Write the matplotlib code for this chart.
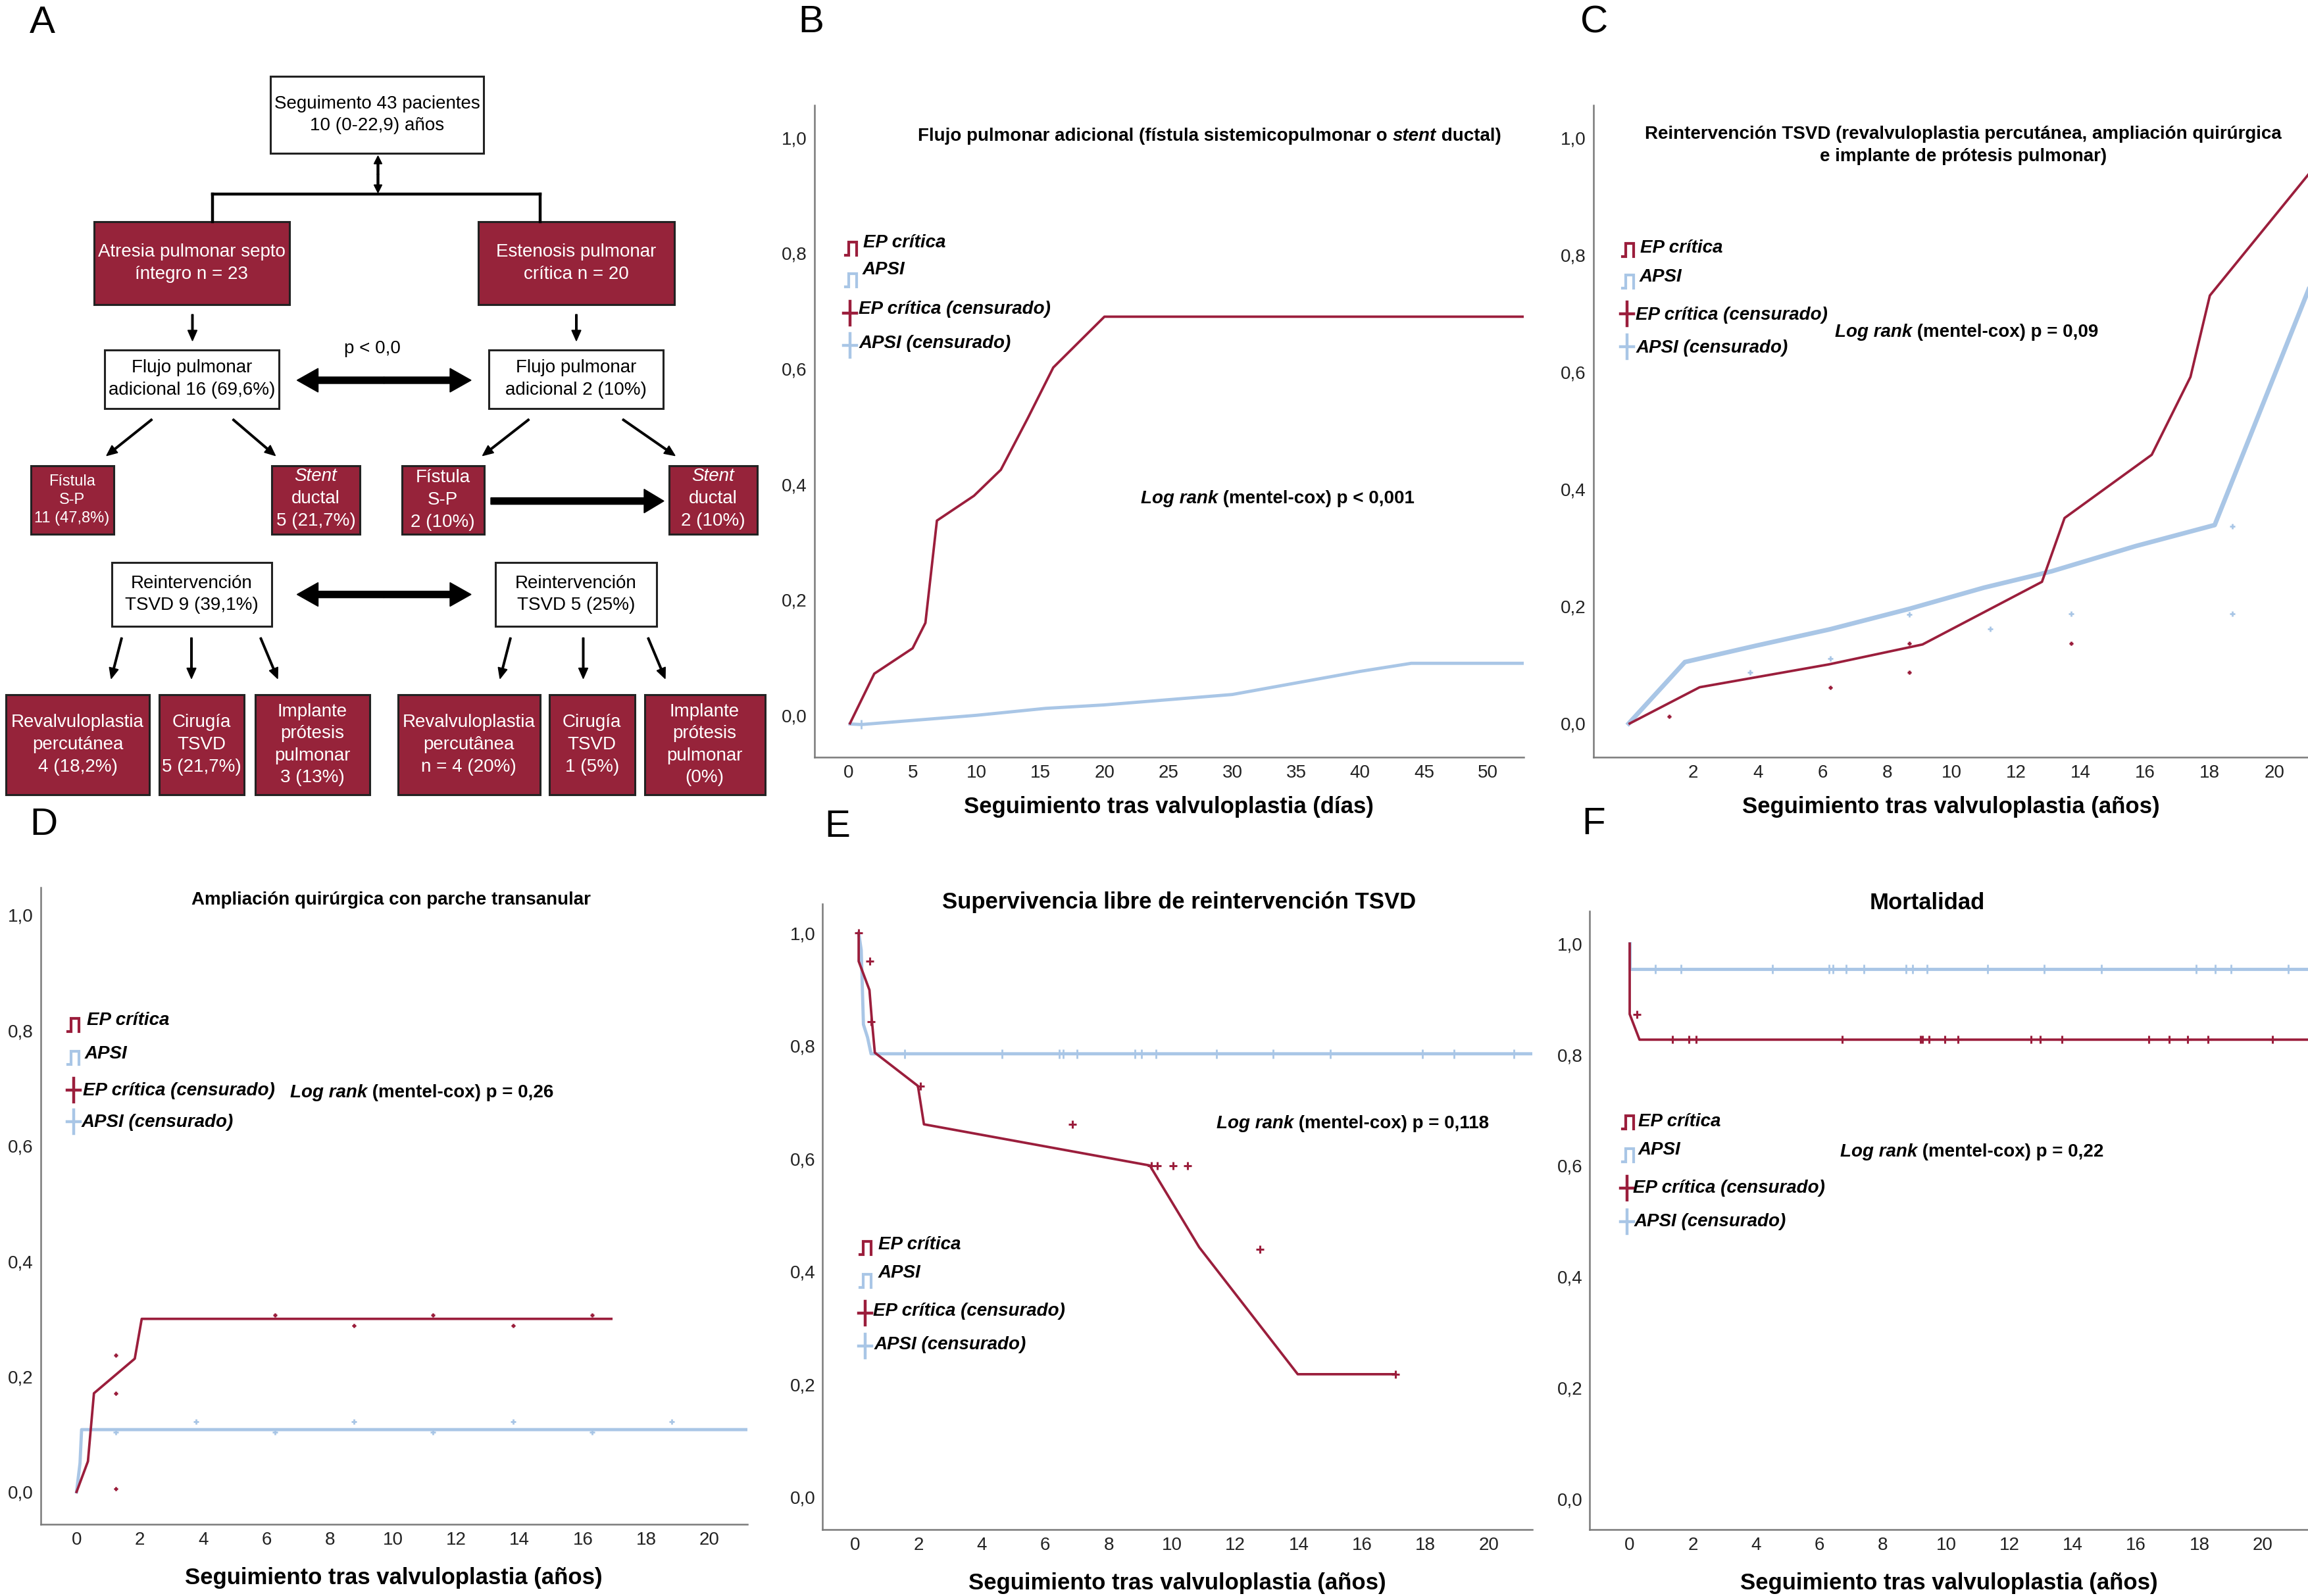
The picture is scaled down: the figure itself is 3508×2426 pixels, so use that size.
import matplotlib
matplotlib.use("Agg")
import matplotlib.pyplot as plt
from matplotlib.patches import Rectangle, FancyArrow

plt.rcParams['font.family'] = ['Liberation Sans', 'DejaVu Sans']

RED = '#9B1E3C'
BLUE = '#A9C6E6'
BOX_RED = '#96233A'

# ---------------- data ----------------
y_ticks = [0.0, 0.2, 0.4, 0.6, 0.8, 1.0]
y_tick_labels = ['0,0', '0,2', '0,4', '0,6', '0,8', '1,0']

# B: flujo pulmonar adicional (dias)
b_xticks = [0, 5, 10, 15, 20, 25, 30, 35, 40, 45, 50]
b_red_x = [0.1, 2.0, 5.0, 6.0, 6.9, 9.8, 11.9, 14.0, 16.0, 20.0, 52.8]
b_red_y = [-0.014, 0.072, 0.116, 0.16, 0.337, 0.38, 0.425, 0.514, 0.602, 0.69, 0.69]
b_blue_x = [0.1, 1.0, 10.0, 15.4, 20.0, 30.0, 35.0, 40.0, 44.0, 52.8]
b_blue_y = [-0.015, -0.016, 0.0, 0.012, 0.018, 0.036, 0.056, 0.076, 0.09, 0.09]
b_blue_cens_x = [1.0]
b_blue_cens_y = [-0.016]

# C: reintervencion TSVD (anos)
c_xticks = [2, 4, 6, 8, 10, 12, 14, 16, 18, 20]
c_red_x = [0.03, 2.2, 6.2, 9.1, 12.8, 13.5, 16.2, 17.4, 18.0, 21.1]
c_red_y = [0.0, 0.062, 0.101, 0.135, 0.242, 0.351, 0.459, 0.592, 0.731, 0.941]
c_blue_x = [0.0, 1.74, 3.95, 6.24, 8.7, 11.0, 13.1, 15.7, 18.15, 21.1]
c_blue_y = [0.0, 0.105, 0.133, 0.161, 0.196, 0.232, 0.26, 0.303, 0.339, 0.747]
c_red_cens_x = [1.25, 6.24, 8.7, 8.7, 13.7]
c_red_cens_y = [0.012, 0.062, 0.137, 0.087, 0.137]
c_blue_cens_x = [3.77, 6.24, 8.7, 11.2, 13.7, 18.7, 18.7]
c_blue_cens_y = [0.087, 0.111, 0.186, 0.162, 0.187, 0.337, 0.187]

# D: ampliacion quirurgica con parche transanular
yr_xticks = [0, 2, 4, 6, 8, 10, 12, 14, 16, 18, 20]
d_red_x = [0, 0.36, 0.55, 1.84, 2.06, 16.9]
d_red_y = [0, 0.053, 0.171, 0.231, 0.3, 0.3]
d_blue_x = [0, 0.11, 0.16, 21.2]
d_blue_y = [0, 0.05, 0.108, 0.108]
d_red_cens_x = [1.25, 1.25, 1.25, 6.27, 8.76, 11.27, 13.8, 16.3]
d_red_cens_y = [0.237, 0.171, 0.006, 0.307, 0.288, 0.307, 0.288, 0.307]
d_blue_cens_x = [1.25, 3.77, 6.27, 8.76, 11.27, 13.8, 16.3, 18.8]
d_blue_cens_y = [0.104, 0.122, 0.104, 0.122, 0.104, 0.122, 0.104, 0.122]

# E: supervivencia libre de reintervencion TSVD
e_red_x = [0.11, 0.11, 0.19, 0.45, 0.53, 0.62, 1.98, 2.17, 9.3, 10.86, 13.97, 17.06]
e_red_y = [1.0, 0.95, 0.938, 0.899, 0.843, 0.788, 0.729, 0.661, 0.588, 0.443, 0.218, 0.218]
e_blue_x = [0.11, 0.19, 0.26, 0.39, 0.5, 21.4]
e_blue_y = [1.0, 0.97, 0.838, 0.815, 0.786, 0.786]
e_red_cens_x = [0.11, 0.45, 0.5, 2.06, 6.85, 9.35, 9.53, 10.03, 10.5, 12.77, 17.06]
e_red_cens_y = [1.0, 0.95, 0.843, 0.729, 0.661, 0.588, 0.588, 0.588, 0.588, 0.44, 0.218]
e_blue_cens_x = [1.56, 4.63, 6.45, 6.57, 7.0, 8.83, 9.03, 9.49, 11.4, 13.2, 15.0, 17.9, 18.9, 20.8]
e_blue_cens_y = [0.786] * len(e_blue_cens_x)

# F: mortalidad
f_red_x = [0, 0, 0.31, 21.4]
f_red_y = [1.0, 0.873, 0.827, 0.827]
f_blue_x = [0, 0, 21.4]
f_blue_y = [1.0, 0.954, 0.954]
f_red_cens_x = [0.23, 1.35, 1.87, 2.1, 6.72, 9.18, 9.25, 9.45, 9.95, 10.38, 12.68, 12.98, 13.65,
                16.4, 17.04, 17.62, 18.27, 20.3]
f_red_cens_y = [0.873] + [0.827] * 17
f_blue_cens_x = [0.81, 1.62, 4.5, 6.29, 6.43, 6.83, 7.39, 8.72, 8.93, 9.4, 11.3, 13.1, 14.9,
                 17.9, 18.5, 19.0, 20.8]
f_blue_cens_y = [0.954] * len(f_blue_cens_x)

legend_labels = ['EP crítica', 'APSI', 'EP crítica (censurado)', 'APSI (censurado)']
xlabel_dias = 'Seguimiento tras valvuloplastia (días)'
xlabel_anos = 'Seguimiento tras valvuloplastia (años)'

# panel A texts
flow_top = 'Seguimento 43 pacientes\n10 (0-22,9) años'
flow_groups = ['Atresia pulmonar septo\níntegro n = 23', 'Estenosis pulmonar\ncrítica n = 20']
flow_flujo = ['Flujo pulmonar\nadicional 16 (69,6%)', 'Flujo pulmonar\nadicional 2 (10%)']
flow_fistula = ['Fístula\nS-P\n11 (47,8%)', 'Fístula\nS-P\n2 (10%)']
flow_stent = ['ductal\n5 (21,7%)', 'ductal\n2 (10%)']
flow_reint = ['Reintervención\nTSVD 9 (39,1%)', 'Reintervención\nTSVD 5 (25%)']
flow_bottom = ['Revalvuloplastia\npercutánea\n4 (18,2%)', 'Cirugía\nTSVD\n5 (21,7%)',
               'Implante\nprótesis\npulmonar\n3 (13%)', 'Revalvuloplastia\npercutânea\nn = 4 (20%)',
               'Cirugía\nTSVD\n1 (5%)', 'Implante\nprótesis\npulmonar\n(0%)']

# ---------------- figure ----------------
W, H = 3508, 2426
fig = plt.figure(figsize=(W / 100, H / 100), dpi=100)


def km_axes(box, xlim, ylim, xticks, xlabel, labelpad):
    l, t, r, b = box
    ax = fig.add_axes([l / W, 1 - b / H, (r - l) / W, (b - t) / H])
    ax.patch.set_alpha(0)
    ax.set_xlim(xlim)
    ax.set_ylim(ylim)
    for s in ['top', 'right']:
        ax.spines[s].set_visible(False)
    for s in ['left', 'bottom']:
        ax.spines[s].set_color('#7a7a7a')
        ax.spines[s].set_linewidth(1.8)
    ax.set_yticks(y_ticks)
    ax.set_yticklabels(y_tick_labels)
    ax.set_xticks(xticks)
    ax.set_xticklabels([str(v) for v in xticks])
    ax.tick_params(length=0, labelsize=20, pad=8, colors='#222222')
    ax.set_xlabel(xlabel, fontsize=25, fontweight='bold', labelpad=labelpad)
    return ax


def curves(ax, rx, ry, bx, by, rcx, rcy, bcx, bcy, cens_ms=8, blue_lw=3.5):
    ax.plot(bx, by, color=BLUE, lw=blue_lw, solid_joinstyle='round')
    ax.plot(rx, ry, color=RED, lw=2.7, solid_joinstyle='round')
    if bcx:
        ax.plot(bcx, bcy, '+', color=BLUE, ms=cens_ms + 2, mew=2, ls='none')
    if rcx:
        ax.plot(rcx, rcy, '+', color=RED, ms=cens_ms, mew=2.2, ls='none')


ax_b = km_axes((1237.5, 160, 2316, 1150.5), (-2.7, 52.8), (-0.072, 1.056), b_xticks, xlabel_dias, 16)
curves(ax_b, b_red_x, b_red_y, b_blue_x, b_blue_y, [], [], b_blue_cens_x, b_blue_cens_y)

ax_c = km_axes((2422, 160, 3508, 1150.5), (-1.09, 21.04), (-0.057, 1.056), c_xticks, xlabel_anos, 16)
curves(ax_c, c_red_x, c_red_y, c_blue_x, c_blue_y, c_red_cens_x, c_red_cens_y,
       c_blue_cens_x, c_blue_cens_y, cens_ms=4, blue_lw=5)

ax_d = km_axes((61.5, 1348.8, 1136, 2316.9), (-1.14, 21.2), (-0.056, 1.048), yr_xticks, xlabel_anos, 20)
curves(ax_d, d_red_x, d_red_y, d_blue_x, d_blue_y, d_red_cens_x, d_red_cens_y,
       d_blue_cens_x, d_blue_cens_y, cens_ms=4)

ax_e = km_axes((1250.25, 1373.7, 2328.75, 2324.7), (-1.03, 21.37), (-0.057, 1.052), yr_xticks, xlabel_anos, 20)
curves(ax_e, e_red_x, e_red_y, e_blue_x, e_blue_y, e_red_cens_x, e_red_cens_y,
       e_blue_cens_x, e_blue_cens_y)

ax_f = km_axes((2416.4, 1385.4, 3508, 2324.7), (-1.26, 21.43), (-0.055, 1.058), yr_xticks, xlabel_anos, 20)
curves(ax_f, f_red_x, f_red_y, f_blue_x, f_blue_y, f_red_cens_x, f_red_cens_y,
       f_blue_cens_x, f_blue_cens_y)

# overlay in pixel coordinates for panel A, titles, legends
ov = fig.add_axes([0, 0, 1, 1], zorder=10)
ov.set_xlim(0, W)
ov.set_ylim(H, 0)
ov.axis('off')

# panel letters
for letter, (lx, ly) in zip('ABCDEF', [(64, 35), (1233, 34), (2423, 34), (66, 1254), (1273, 1257), (2422, 1253)]):
    ov.text(lx, ly, letter, fontsize=42, ha='center', va='center')


def chain(x, y, pieces, size, ha='left'):
    # pieces: list of (text, style) drawn one after another
    t = ov.text(x, y, pieces[0][0], fontsize=size, fontweight='bold', style=pieces[0][1],
                ha=ha, va='baseline')
    for txt, st in pieces[1:]:
        t = ov.annotate(txt, xy=(1, 0), xycoords=t, fontsize=size, fontweight='bold', style=st,
                        ha='left', va='bottom')
    return t


# titles
chain(1395, 214, [('Flujo pulmonar adicional (fístula sistemicopulmonar o ', 'normal'),
                  ('stent', 'italic'), (' ductal)', 'normal')], 20)
ov.text(2984, 204, 'Reintervención TSVD (revalvuloplastia percutánea, ampliación quirúrgica',
        fontsize=20, fontweight='bold', ha='center', va='center')
ov.text(2984, 238, 'e implante de prótesis pulmonar)', fontsize=20, fontweight='bold', ha='center', va='center')
ov.text(594, 1368, 'Ampliación quirúrgica con parche transanular', fontsize=20, fontweight='bold',
        ha='center', va='center')
ov.text(1792, 1372, 'Supervivencia libre de reintervención TSVD', fontsize=25, fontweight='bold',
        ha='center', va='center')
ov.text(2929, 1372, 'Mortalidad', fontsize=25, fontweight='bold', ha='center', va='center')

# log rank texts
chain(1734, 765, [('Log rank', 'italic'), (' (mentel-cox) p < 0,001', 'normal')], 20)
chain(2789, 512, [('Log rank', 'italic'), (' (mentel-cox) p = 0,09', 'normal')], 20)
chain(441, 1668, [('Log rank', 'italic'), (' (mentel-cox) p = 0,26', 'normal')], 20)
chain(1849, 1715, [('Log rank', 'italic'), (' (mentel-cox) p = 0,118', 'normal')], 20)
chain(2797, 1758, [('Log rank', 'italic'), (' (mentel-cox) p = 0,22', 'normal')], 20)


def step_symbol(cx, cy, color):
    xs = [cx - 9, cx - 4, cx - 4, cx + 8, cx + 8]
    ys = [cy + 10, cy + 10, cy - 10, cy - 10, cy + 10]
    ov.plot(xs, ys, color=color, lw=3, solid_joinstyle='miter')


def cens_symbol(cx, cy, color):
    ov.plot([cx - 10, cx + 10], [cy, cy], color=color, lw=3.2)
    ov.plot([cx, cx], [cy - 18, cy + 18], color=color, lw=3.2)


def km_legend(rows):
    # rows: symbol x, symbol y, text x, text y for each of the four entries
    colors = [RED, BLUE, RED, BLUE]
    for i, (sx, sy, tx, ty) in enumerate(rows):
        if i < 2:
            step_symbol(sx, sy, colors[i])
        else:
            cens_symbol(sx, sy, colors[i])
        ov.text(tx, ty, legend_labels[i], fontsize=20, fontweight='bold', style='italic',
                ha='left', va='center')


km_legend([(1294, 378, 1312, 369), (1294, 426, 1311, 410), (1292, 476, 1305, 470), (1292, 525, 1306, 522)])
km_legend([(2475, 380, 2493, 377), (2475, 428, 2492, 421), (2473, 477, 2486, 479), (2473, 527, 2487, 529)])
km_legend([(112, 1558, 132, 1551), (112, 1608, 129, 1602), (112, 1657, 126, 1658), (112, 1705, 124, 1706)])
km_legend([(1316, 1897, 1335, 1892), (1316, 1947, 1335, 1935), (1315, 1996, 1327, 1993), (1315, 2046, 1329, 2044)])
km_legend([(2475, 1706, 2490, 1705), (2475, 1756, 2490, 1748), (2473, 1806, 2482, 1806), (2473, 1857, 2484, 1857)])

# ---------------- panel A: flow chart ----------------
LS = 1.38


def box(l, t, r, b, text, red, size=20):
    ov.add_patch(Rectangle((l, t), r - l, b - t, facecolor=BOX_RED if red else 'white',
                           edgecolor='#222222', lw=2.2))
    if text:
        ov.text((l + r) / 2, (t + b) / 2, text, fontsize=size, ha='center', va='center',
                color='white' if red else 'black', linespacing=LS)


def arrow(x0, y0, x1, y1, width=2.6, hw=14, hl=16):
    ov.add_patch(FancyArrow(x0, y0, x1 - x0, y1 - y0, width=width, head_width=hw, head_length=hl,
                            length_includes_head=True, color='black'))


def double_arrow(x0, x1, y, width=10, hw=36, hl=32):
    xm = (x0 + x1) / 2
    arrow(xm, y, x0, y, width, hw, hl)
    arrow(xm, y, x1, y, width, hw, hl)


box(411, 116, 735, 233, flow_top, False)
# vertical double arrow and bracket
arrow(574.5, 265, 574.5, 237, width=3, hw=12, hl=12)
arrow(574.5, 265, 574.5, 293, width=3, hw=12, hl=12)
ov.plot([322.5, 821], [294.7, 294.7], color='black', lw=3.2)
ov.plot([322.5, 322.5], [294.7, 337], color='black', lw=3.2)
ov.plot([821, 821], [294.7, 337], color='black', lw=3.2)

box(142.5, 337.4, 439.5, 463, flow_groups[0], True)
box(726.75, 337.4, 1024.5, 463, flow_groups[1], True)
arrow(292.5, 478, 292.5, 518)
arrow(876, 478, 876, 518)

ov.text(566, 530, 'p < 0,0', fontsize=20, ha='center', va='center')
box(159, 532, 424, 620.5, flow_flujo[0], False)
box(743, 532, 1008, 620.5, flow_flujo[1], False)
double_arrow(451.5, 716, 578)

arrow(231, 637.5, 162, 692.6)
arrow(354, 637.5, 418.5, 692.6)
arrow(804, 637.5, 733.5, 692.6)
arrow(946.5, 637.5, 1026, 692.6)

box(46.5, 708, 172.5, 812, flow_fistula[0], True, size=17)
box(610.5, 708, 736, 812, flow_fistula[1], True)
for l, r, txt in [(413, 547, flow_stent[0]), (1017, 1151, flow_stent[1])]:
    box(l, 708, r, 812, None, True)
    ov.text((l + r) / 2, 724, 'Stent', fontsize=20, style='italic', color='white', ha='center', va='center')
    ov.text((l + r) / 2, 775, txt, fontsize=20, color='white', ha='center', va='center', linespacing=LS)
arrow(746, 761.6, 1009, 761.6, width=10, hw=36, hl=30)

box(169.5, 854.7, 413, 952.4, flow_reint[0], False)
box(753, 854.7, 997.5, 952.4, flow_reint[1], False)
double_arrow(451.5, 716, 903.6)

for x0, x1 in [(185, 169), (291, 291), (396, 422), (776, 760), (886.5, 886.5), (985, 1011)]:
    arrow(x0, 969.5, x1, 1031.5)

bottom_x = [(9, 227), (241.5, 371), (388, 562), (604.5, 820.5), (835, 964.5), (979.5, 1162.5)]
for (l, r), txt in zip(bottom_x, flow_bottom):
    box(l, 1056, r, 1208, txt, True)

fig.savefig('out.png', dpi=100)
